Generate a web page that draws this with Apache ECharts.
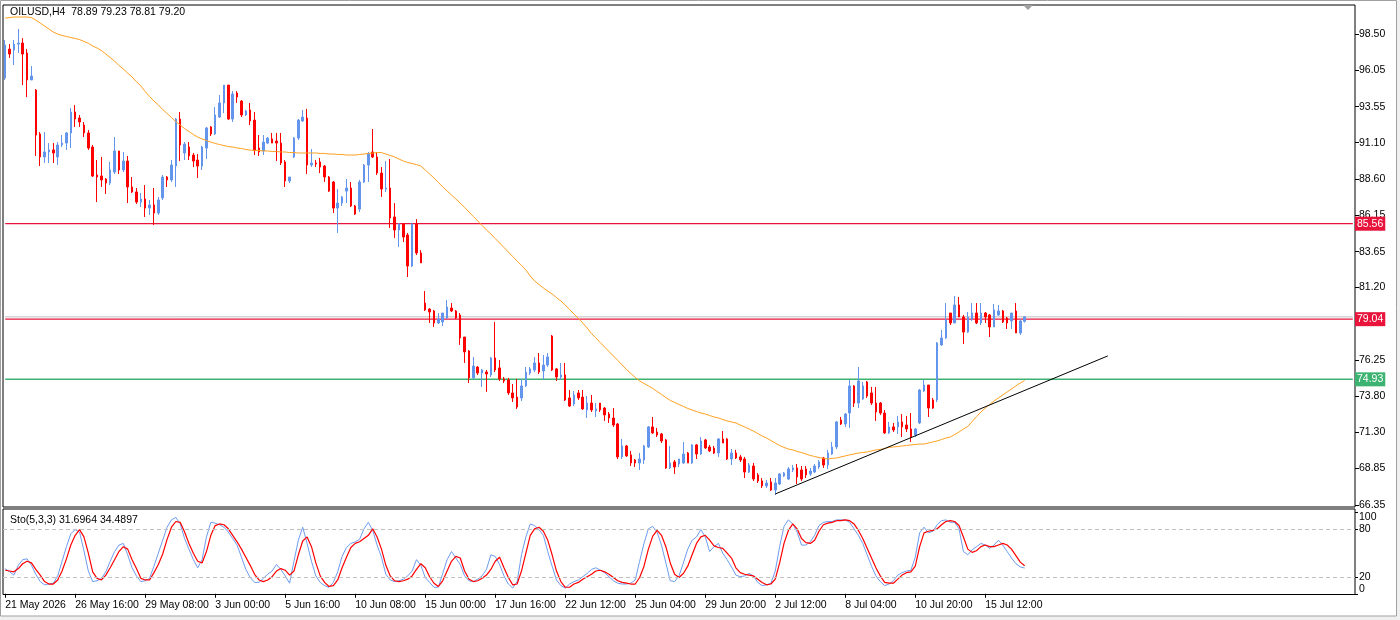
<!DOCTYPE html>
<html>
<head>
<meta charset="utf-8">
<script src="https://cdn.jsdelivr.net/npm/echarts@6.0.0/dist/echarts.min.js"></script>
<style>html,body{margin:0;padding:0;background:#fff;}#c{width:1400px;height:620px;}</style>
</head>
<body>
<div id="c"></div>
<script>
const symbolName = 'OILUSD,H4';

const open = [
95.51,97.49,97.43,97.83,97.90,97.22,95.38,94.69,91.69,90.12,
90.46,90.60,90.12,90.94,91.07,91.76,93.19,92.78,92.30,91.76,
90.80,88.89,88.82,88.61,88.34,89.09,90.53,89.23,89.84,88.07,
87.73,87.04,87.25,86.63,86.84,86.29,87.32,88.75,88.55,89.50,
92.71,90.39,90.80,90.25,89.91,89.50,90.73,92.17,91.69,92.85,
93.81,95.03,92.71,94.49,93.94,92.99,93.33,92.64,90.73,90.53,
91.07,91.35,91.21,91.07,89.78,88.48,90.12,91.41,92.58,92.78,
89.57,89.71,89.78,89.50,88.75,88.41,86.63,86.97,87.79,88.00,
86.77,86.56,88.41,89.57,90.46,90.12,89.02,87.93,88.00,86.02,
85.13,85.54,84.79,82.67,85.54,83.56,80.14,79.73,79.60,78.78,
78.85,79.12,79.80,79.60,79.33,77.82,76.87,75.03,75.77,75.36,
75.43,75.23,76.39,75.71,74.96,74.89,74.00,73.72,73.66,74.48,
75.36,75.57,76.05,75.50,75.91,77.89,75.64,75.09,75.23,73.66,
73.25,74.00,73.72,72.84,73.31,72.77,73.31,72.97,72.56,72.29,
71.88,69.63,70.38,69.77,69.42,69.22,69.42,70.31,71.68,71.33,
71.20,70.79,68.88,69.29,69.15,69.22,69.90,69.22,70.45,69.83,
70.79,70.31,70.24,69.90,70.86,70.86,69.49,69.90,69.63,69.49,
68.60,69.01,68.40,67.99,67.65,67.92,67.37,67.78,68.33,68.12,
68.74,68.88,68.74,68.81,68.47,68.60,68.94,69.56,69.08,69.83,
70.31,72.15,71.88,72.63,74.48,73.31,73.59,74.75,74.00,73.31,
73.31,72.63,71.27,71.68,71.68,72.02,71.81,71.54,71.13,71.95,
74.13,74.54,73.52,73.52,77.28,77.76,79.46,78.78,80.01,79.19,
78.16,79.05,79.46,78.78,79.46,79.33,78.51,79.33,79.60,79.12,
78.92,79.60,78.10,78.89
];
const high = [
98.11,97.83,98.11,98.86,98.24,97.49,96.33,94.76,91.82,91.82,
91.07,91.07,91.14,91.62,91.82,93.46,93.67,92.99,92.51,91.96,
90.94,89.91,90.12,88.68,89.78,91.48,90.53,90.46,90.19,88.75,
88.00,87.66,88.20,87.18,88.00,87.39,88.89,88.82,89.91,92.78,
93.19,91.14,91.14,90.39,90.32,90.87,92.17,92.23,93.53,94.35,
95.03,95.03,94.62,94.62,94.01,93.33,93.81,93.19,91.62,91.62,
91.48,91.76,91.76,91.76,89.91,88.75,91.48,92.71,93.33,93.40,
90.66,89.91,90.05,89.57,88.82,88.48,87.93,87.45,88.61,88.41,
86.84,88.55,89.64,90.46,92.03,90.46,89.43,89.84,89.98,86.97,
85.61,85.61,84.93,85.61,85.88,83.76,80.96,79.80,79.67,79.46,
79.46,80.35,80.14,79.67,79.46,77.82,76.93,76.46,75.84,75.64,
75.57,76.46,78.85,76.25,75.09,75.03,74.61,74.96,74.96,75.77,
75.77,76.46,76.73,76.59,76.73,77.96,75.71,76.05,76.05,74.20,
74.13,74.20,74.20,73.79,73.86,73.31,73.31,73.04,72.70,72.97,
71.95,70.86,70.45,70.04,69.49,69.90,70.45,71.74,72.36,71.61,
71.27,70.86,70.38,69.42,69.49,70.65,69.97,70.51,70.51,70.99,
70.86,70.45,70.38,70.92,71.40,70.92,70.17,70.11,69.77,69.63,
69.22,69.22,68.53,68.19,68.06,68.19,68.19,68.53,68.60,68.94,
69.08,69.15,69.01,69.01,68.88,69.15,69.42,69.63,70.11,70.65,
72.09,72.36,72.63,74.89,74.54,75.77,74.75,74.82,74.41,74.41,
73.38,72.84,72.02,71.95,72.43,72.56,72.43,72.63,71.61,74.27,
74.89,74.54,73.66,77.48,78.30,80.14,79.46,80.62,80.56,79.33,
79.53,80.14,80.14,80.14,79.53,79.39,80.08,80.01,79.67,79.19,
79.46,80.14,79.05,79.23
];
const low = [
95.38,96.88,96.40,97.22,95.03,94.21,95.38,90.19,89.50,89.71,
89.71,89.71,89.57,90.80,90.60,90.73,92.17,92.17,91.48,90.60,
88.75,87.04,88.07,87.59,88.20,88.96,88.96,89.09,86.97,87.66,
86.91,86.70,86.02,86.16,85.47,86.16,87.18,88.07,88.41,88.07,
89.84,89.91,89.91,89.43,88.68,89.23,89.98,91.55,91.62,92.78,
93.12,92.64,92.51,93.81,92.85,92.92,92.30,90.25,90.19,90.25,
91.00,91.07,89.84,89.57,88.07,88.34,90.05,91.28,92.51,88.96,
89.43,89.43,89.02,88.41,87.73,86.29,84.93,86.77,86.97,86.70,
86.16,86.36,88.34,88.41,90.05,88.89,87.39,87.73,85.27,84.59,
83.97,84.31,81.92,82.60,83.42,82.88,79.60,78.78,78.51,78.71,
78.57,79.05,79.53,79.05,77.28,76.05,74.68,74.96,75.23,74.41,
74.07,75.09,75.43,74.82,74.68,73.86,73.38,72.91,73.45,74.41,
75.23,75.43,75.30,74.89,75.77,75.50,74.82,74.89,73.45,73.04,
73.11,73.52,72.84,72.29,72.70,72.36,72.70,72.09,71.95,71.68,
69.49,69.49,69.63,69.01,68.94,68.74,69.15,70.24,71.20,70.99,
70.58,68.81,68.81,68.47,68.94,69.15,69.22,69.15,69.49,69.77,
70.17,69.97,69.83,69.63,70.58,69.42,69.08,69.49,69.29,68.19,
68.53,67.99,67.85,67.51,67.51,67.30,67.03,67.71,68.26,68.06,
68.60,67.78,67.99,68.19,68.33,68.53,68.81,68.88,68.81,69.77,
70.17,71.81,71.68,71.61,73.04,72.97,73.52,73.66,73.18,72.09,
72.50,71.20,71.20,71.33,71.20,70.99,71.33,70.65,70.99,71.88,
74.07,72.36,72.91,73.38,77.21,77.69,78.64,78.78,79.19,77.34,
78.10,78.92,78.71,78.64,78.78,77.82,78.51,79.26,78.78,78.37,
78.37,78.10,77.96,78.81
];
const close = [
97.77,97.15,97.83,97.90,97.15,95.38,95.65,91.62,90.12,90.46,
90.60,90.39,90.94,91.07,91.76,93.19,92.71,92.51,91.76,90.73,
88.82,88.75,88.55,88.34,89.23,90.53,89.23,89.84,88.07,87.73,
87.04,87.25,86.63,86.84,86.29,87.18,88.75,88.55,89.57,92.71,
90.94,91.00,90.19,89.84,89.50,90.80,92.10,91.69,92.99,93.81,
95.03,92.71,94.42,94.21,92.99,93.26,92.58,90.60,90.46,91.14,
91.41,91.07,91.07,89.71,88.48,88.75,91.41,92.64,92.85,89.57,
89.71,89.64,89.43,88.75,87.79,86.63,86.97,87.39,88.00,86.77,
86.22,88.41,89.57,90.32,90.12,89.02,87.93,88.00,85.95,85.13,
85.54,84.65,82.67,85.54,83.56,82.88,79.67,79.53,78.78,79.05,
79.46,79.87,79.60,79.12,77.76,76.80,75.03,75.84,75.36,75.57,
75.30,76.39,75.57,74.96,74.82,74.00,73.66,73.04,74.48,75.43,
75.64,76.05,75.43,75.91,76.46,75.57,75.09,75.23,73.52,73.11,
73.86,73.66,72.91,73.31,72.84,72.91,72.84,72.50,72.29,71.81,
69.63,70.38,69.70,69.22,69.22,69.49,70.38,71.68,71.27,71.13,
70.72,68.88,69.22,68.94,69.49,69.83,69.22,70.45,69.83,70.72,
70.24,70.04,69.90,70.86,70.58,69.49,69.90,69.56,69.42,68.60,
69.08,68.12,67.99,67.65,67.85,67.37,67.85,68.47,68.53,68.81,
68.88,68.26,68.12,68.40,68.67,69.01,69.29,69.08,69.90,70.31,
72.02,71.88,72.56,74.48,73.31,74.82,74.48,73.79,73.31,72.70,
72.63,71.27,71.68,71.47,72.02,71.68,71.54,70.99,71.54,74.20,
74.54,72.97,72.97,77.41,77.76,78.98,78.78,80.01,79.19,78.16,
79.19,79.46,78.78,79.46,79.19,78.51,79.67,79.60,78.85,78.78,
79.46,78.10,78.92,79.20
];
const maValues = [
99.61,99.64,99.68,99.68,99.68,99.68,99.64,99.47,99.27,99.06,
98.86,98.65,98.52,98.42,98.35,98.28,98.21,98.14,98.01,97.89,
97.70,97.56,97.39,97.15,96.91,96.67,96.37,96.13,95.85,95.58,
95.27,94.97,94.59,94.25,93.94,93.67,93.36,93.09,92.81,92.54,
92.30,92.06,91.86,91.65,91.48,91.35,91.24,91.14,91.04,90.97,
90.90,90.83,90.80,90.73,90.70,90.63,90.59,90.56,90.56,90.53,
90.53,90.49,90.49,90.46,90.46,90.42,90.42,90.39,90.39,90.39,
90.39,90.39,90.36,90.36,90.32,90.32,90.29,90.29,90.25,90.25,
90.25,90.29,90.32,90.36,90.39,90.42,90.42,90.32,90.22,90.12,
89.98,89.84,89.74,89.67,89.60,89.50,89.23,88.96,88.68,88.38,
88.07,87.80,87.52,87.25,86.97,86.67,86.36,86.05,85.75,85.44,
85.13,84.86,84.55,84.24,83.94,83.63,83.32,83.01,82.71,82.40,
81.99,81.65,81.41,81.17,80.96,80.76,80.52,80.28,80.01,79.70,
79.39,79.09,78.78,78.44,78.06,77.76,77.45,77.14,76.83,76.53,
76.22,75.91,75.60,75.33,75.06,74.82,74.65,74.48,74.31,74.10,
73.90,73.69,73.49,73.35,73.21,73.08,72.94,72.84,72.73,72.63,
72.56,72.46,72.36,72.29,72.19,72.09,72.02,71.95,71.81,71.68,
71.54,71.40,71.23,71.06,70.92,70.75,70.58,70.41,70.28,70.17,
70.11,70.00,69.93,69.83,69.73,69.66,69.59,69.53,69.49,69.53,
69.56,69.63,69.70,69.77,69.83,69.90,69.93,69.97,70.04,70.11,
70.14,70.21,70.28,70.31,70.34,70.38,70.41,70.45,70.48,70.51,
70.51,70.58,70.65,70.72,70.82,70.92,70.99,71.16,71.33,71.54,
71.71,72.05,72.39,72.70,72.97,73.21,73.45,73.66,73.86,74.07,
74.27,74.48,74.68,74.85
];
const stochK = [
31,27,23,35,42,43,35,24,15,11,
12,13,22,40,58,74,79,76,53,28,
15,16,19,27,40,52,60,62,48,32,
22,15,16,19,34,50,66,82,91,94,
86,68,55,42,32,42,70,88,87,85,
82,76,68,60,45,30,20,14,14,19,
24,28,36,30,22,13,40,66,82,62,
40,22,14,10,8,14,27,46,57,62,
64,67,80,88,78,60,45,24,17,15,
16,18,22,28,42,35,20,14,8,8,
25,42,52,44,36,22,16,15,18,22,
30,48,46,36,22,12,7,15,48,70,
86,84,79,72,52,34,17,10,7,12,
15,17,21,25,30,32,29,26,21,16,
13,12,12,13,17,40,62,80,83,76,
60,38,16,15,22,38,55,66,70,79,
70,52,58,62,50,42,33,23,21,22,
25,22,14,10,11,13,28,58,83,91,
86,76,60,60,64,72,84,88,89,89,
91,91,91,88,80,72,62,48,34,22,
15,10,12,16,23,26,28,29,45,75,
82,75,77,85,90,91,88,88,80,52,
48,54,58,62,60,56,60,66,60,52,
44,37,33,31.6964
];
const stochD = [
29,28,27,31,37,40,38,30,23,15,
12,12,17,28,43,60,72,79,70,50,
27,19,17,23,32,42,52,58,55,42,
31,19,17,17,26,36,49,67,82,89,
88,76,62,50,40,38,52,72,84,86,
85,80,72,64,55,45,35,24,17,15,
17,21,28,31,29,23,28,48,65,70,
58,38,22,14,9,10,17,32,45,57,
62,64,68,72,80,70,55,35,22,16,
15,16,18,22,30,37,32,21,13,9,
16,28,40,46,44,28,18,15,16,19,
23,30,40,45,32,20,11,12,28,50,
72,80,82,77,66,48,28,15,8,8,
12,14,18,21,24,28,29,27,24,20,
16,14,13,12,12,20,34,55,71,78,
72,58,38,24,20,25,34,48,62,70,
72,66,59,57,56,50,44,32,26,24,
23,22,18,14,11,12,18,38,62,78,
86,80,68,63,62,66,77,85,87,88,
90,90,91,90,86,78,68,56,44,32,
22,14,13,13,18,23,26,27,34,58,
75,77,78,80,85,89,90,89,84,70,
55,51,53,58,60,58,58,60,62,60,
55,47,39,34.4897
];
const xTickLabels = ['21 May 2026','26 May 16:00','29 May 08:00','3 Jun 00:00','5 Jun 16:00','10 Jun 08:00','15 Jun 00:00','17 Jun 16:00','22 Jun 12:00','25 Jun 04:00','29 Jun 20:00','2 Jul 12:00','8 Jul 04:00','10 Jul 20:00','15 Jul 12:00'];
const priceTicks = [66.35,68.85,71.30,73.80,76.25,78.75,81.20,83.65,86.15,88.60,91.10,93.55,96.05,98.50];
const stochTicks = [0,20,80,100];
const stochLevels = [20,80];
const redLevels = [85.56, 79.04];
const greenLevels = [74.93];
const bidPrice = 79.20;
const trendStart = [176, 67.10];
const trendEnd = [252, 76.53];

const SLOTS = 309;
const STEP = 16;
const cats = Array.from({length: SLOTS}, (_, i) => String(i));
const candleData = open.map((o, i) => [o, close[i], low[i], high[i]]);
const last = open.length - 1;
const trendData = Array.from({length: trendEnd[0] + 1}, () => null);
trendData[trendStart[0]] = trendStart[1];
trendData[trendEnd[0]] = trendEnd[1];
const isTick = (i) => i % STEP === 0 && (i / STEP) < xTickLabels.length;
const FONT = '"Liberation Sans", Arial, sans-serif';
const FS = 10.5;
const RED = '#E8143C';
const GREEN = '#3CB371';
const CLEAR = 'rgba(0,0,0,0)';

// full-width horizontal level: the level value at the first and last slot, joined
function levelSeries(name, v, color, width, z) {
  const d = Array.from({length: SLOTS}, () => null);
  d[0] = v; d[SLOTS - 1] = v;
  return {
    type: 'line', name: name, xAxisIndex: 0, yAxisIndex: 0, data: d,
    connectNulls: true, symbol: 'none', silent: true,
    lineStyle: {color: color, width: width}, itemStyle: {color: color}, z: z
  };
}
function boxLabel(color) {
  return {
    show: true, position: 'end', distance: 0,
    formatter: (p) => Number(p.value).toFixed(2),
    backgroundColor: color, color: '#fff',
    padding: [2, 2, 1, 2], fontFamily: FONT, fontSize: FS, lineHeight: 11
  };
}

const chart = echarts.init(document.getElementById('c'), null, {renderer: 'canvas'});

const option = {
  animation: false,
  backgroundColor: '#ffffff',
  title: [
    {
      text: symbolName + '  ' + open[last].toFixed(2) + ' ' + high[last].toFixed(2) + ' ' + low[last].toFixed(2) + ' ' + close[last].toFixed(2),
      left: 10, top: 7, padding: 0,
      textStyle: {fontFamily: FONT, fontSize: FS, fontWeight: 'normal', color: '#000'}
    },
    {
      text: 'Sto(5,3,3) ' + stochK[last].toFixed(4) + ' ' + stochD[last].toFixed(4),
      left: 10, top: 515, padding: 0,
      textStyle: {fontFamily: FONT, fontSize: FS, fontWeight: 'normal', color: '#000'}
    }
  ],
  grid: [
    {left: 3, top: 5, width: 1352, height: 502, show: true, borderColor: '#000', borderWidth: 1, containLabel: false},
    {left: 3, top: 509, width: 1352, height: 85.5, show: true, borderColor: '#000', borderWidth: 1, containLabel: false}
  ],
  xAxis: [
    {
      type: 'category', gridIndex: 0, data: cats, boundaryGap: true,
      axisLine: {show: false}, axisTick: {show: false}, axisLabel: {show: false}, splitLine: {show: false}
    },
    {
      type: 'category', gridIndex: 1, data: cats, boundaryGap: true,
      axisLine: {show: false},
      axisTick: {show: true, alignWithLabel: true, interval: (i) => isTick(i), length: 4, lineStyle: {color: '#000'}},
      axisLabel: {
        show: true, interval: (i) => isTick(i),
        formatter: (v, i) => (isTick(i) ? xTickLabels[i / STEP] : ''),
        align: 'left', margin: 5, fontFamily: FONT, fontSize: FS, color: '#000'
      },
      splitLine: {show: false}
    }
  ],
  yAxis: [
    {
      type: 'value', gridIndex: 0, position: 'right', min: 66.21, max: 100.50, scale: true,
      axisLine: {show: false}, splitLine: {show: false},
      axisTick: {show: true, customValues: priceTicks, length: 4, lineStyle: {color: '#000'}},
      axisLabel: {customValues: priceTicks, formatter: (v) => Number(v).toFixed(2), margin: 4, fontFamily: FONT, fontSize: FS, color: '#000'}
    },
    {
      type: 'value', gridIndex: 1, position: 'right', min: -0.9, max: 104.4,
      axisLine: {show: false}, splitLine: {show: false},
      axisTick: {show: true, customValues: stochTicks, length: 3, lineStyle: {color: '#000'}},
      axisLabel: {
        customValues: stochTicks, margin: 4, fontFamily: FONT, fontSize: FS, color: '#000',
        formatter: (v) => (v === 100 ? '{t|100}' : v === 0 ? '{b|0}' : String(v)),
        rich: {
          t: {padding: [10, 0, 0, 0], fontFamily: FONT, fontSize: FS, color: '#000'},
          b: {padding: [0, 0, 10, 0], fontFamily: FONT, fontSize: FS, color: '#000'}
        }
      }
    }
  ],
  series: [
    levelSeries('Bid', bidPrice, '#C0C0C0', 1, 1),
    ...redLevels.map((v, k) => levelSeries('Level ' + (k + 1), v, RED, 1.3, 1)),
    ...greenLevels.map((v, k) => levelSeries('Support ' + (k + 1), v, GREEN, 1.5, 1)),
    {
      type: 'candlestick', name: symbolName, xAxisIndex: 0, yAxisIndex: 0,
      data: candleData, barWidth: 2, z: 2,
      itemStyle: {color: '#6495ED', color0: '#FF0000', borderColor: '#6495ED', borderColor0: '#FF0000', borderWidth: 1},
      markLine: {
        silent: true, symbol: ['none', 'none'], animation: false,
        lineStyle: {color: CLEAR, width: 1},
        label: boxLabel(RED),
        data: redLevels.map((v) => ({yAxis: v}))
      }
    },
    {
      type: 'line', name: 'MA', xAxisIndex: 0, yAxisIndex: 0, data: maValues,
      symbol: 'none', lineStyle: {color: '#FFA020', width: 1}, itemStyle: {color: '#FFA020'}, z: 3,
      markLine: {
        silent: true, symbol: ['none', 'none'], animation: false,
        lineStyle: {color: CLEAR, width: 1},
        label: boxLabel(GREEN),
        data: greenLevels.map((v) => ({yAxis: v}))
      }
    },
    {
      type: 'line', name: 'Trend', xAxisIndex: 0, yAxisIndex: 0, data: trendData,
      connectNulls: true, symbol: 'none', lineStyle: {color: '#000', width: 1}, itemStyle: {color: '#000'}, z: 4
    },
    {
      type: 'line', name: '%K', xAxisIndex: 1, yAxisIndex: 1, data: stochK,
      symbol: 'none', lineStyle: {color: '#6E9CF0', width: 1}, itemStyle: {color: '#6E9CF0'},
      markLine: {
        silent: true, symbol: ['none', 'none'], label: {show: false},
        lineStyle: {color: '#C0C0C0', type: [4, 3], width: 1},
        data: stochLevels.map((v) => ({yAxis: v}))
      }
    },
    {
      type: 'line', name: '%D', xAxisIndex: 1, yAxisIndex: 1, data: stochD,
      symbol: 'none', lineStyle: {color: '#FF0000', width: 1.2}, itemStyle: {color: '#FF0000'}
    }
  ],
  graphic: [
    {type: 'rect', silent: true, z: -1, shape: {x: 0, y: 616, width: 1400, height: 4}, style: {fill: '#F0F0F0'}},
    {type: 'rect', silent: true, z: -1, shape: {x: 1397, y: 0, width: 3, height: 620}, style: {fill: '#F0F0F0'}},
    {type: 'rect', silent: true, z: 10, shape: {x: 0.5, y: 0.5, width: 1396, height: 615.5}, style: {fill: null, stroke: '#A0A0A0', lineWidth: 1}},
    {type: 'polygon', silent: true, z: 10, shape: {points: [[1023, 5], [1033, 5], [1028, 10]]}, style: {fill: '#A0A0A0'}}
  ]
};
chart.setOption(option);
</script>
</body>
</html>
